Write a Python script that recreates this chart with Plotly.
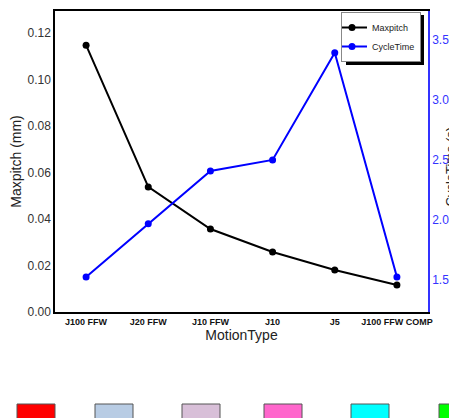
import plotly.graph_objects as go

categories = ["J100 FFW", "J20 FFW", "J10 FFW", "J10", "J5", "J100 FFW COMP"]
maxpitch = [0.1148, 0.0538, 0.0357, 0.0258, 0.0181, 0.0116]
cycle_time = [1.525, 1.967, 2.408, 2.50, 3.392, 1.525]
swatch_colors = ["#FF0000", "#B8CCE4", "#D8BFD8", "#FF66CC", "#00FFFF", "#00FF00"]

OFF = 8  # page body margin
W, H = 457 - OFF, 418 - OFF
L, R, T, B = 55 - OFF, 29, 11 - OFF, 106
pw, ph = W - L - R, H - T - B

def px(x):
    return (x - OFF - L) / pw

def py(y):
    return (H - B - (y - OFF)) / ph

fig = go.Figure()
fig.add_trace(go.Scatter(x=categories, y=maxpitch, name="Maxpitch", mode="lines+markers",
                         line=dict(color="black", width=2), marker=dict(color="black", size=7)))
fig.add_trace(go.Scatter(x=categories, y=cycle_time, name="CycleTime", mode="lines+markers",
                         yaxis="y2",
                         line=dict(color="#0000FF", width=2), marker=dict(color="#0000FF", size=7)))

shapes = []
# legend shadow
shapes.append(dict(type="rect", xref="paper", yref="paper", x0=px(346), x1=px(424), y0=py(65), y1=py(15),
                   fillcolor="black", line=dict(width=0), layer="above"))
# colour swatches below the chart
sw_x = [17, 95, 182, 264, 351, 439]
for c, x0 in zip(swatch_colors, sw_x):
    shapes.append(dict(type="rect", xref="paper", yref="paper", x0=px(x0), x1=px(x0 + 38),
                       y0=py(425), y1=py(404), fillcolor=c, line=dict(color="#555555", width=1)))

fig.update_layout(
    width=W, height=H,
    margin=dict(l=L, r=R, t=T, b=B, autoexpand=False),
    paper_bgcolor="white", plot_bgcolor="white",
    font=dict(family="Liberation Sans, Arial", color="#222222"),
    showlegend=True,
    legend=dict(x=px(421), y=py(12), xanchor="right", yanchor="top",
                bgcolor="white", bordercolor="#888888", borderwidth=1,
                font=dict(size=9, color="#222222"), tracegroupgap=0,
                itemwidth=30, indentation=-10),
    xaxis=dict(type="category", range=[-0.5, 5.5], showline=True, linecolor="black", linewidth=1.5,
               mirror=True, showgrid=False, zeroline=False, ticks="", automargin=False,
               tickfont=dict(size=9, color="#111111", family="Liberation Sans, Arial", weight="bold"),
               title=dict(text="MotionType", font=dict(size=14, color="#222222"), standoff=4)),
    yaxis=dict(range=[0, 0.1295], dtick=0.02, tickformat=".2f", showline=True, linecolor="black",
               linewidth=1.5, showgrid=False, zeroline=False, ticks="", automargin=False,
               tickfont=dict(size=12, color="#333333"),
               title=dict(text="Maxpitch (mm)", font=dict(size=14, color="#222222"), standoff=6)),
    yaxis2=dict(range=[1.233, 3.74], dtick=0.5, tickformat=".1f", overlaying="y", side="right",
                showline=True, linecolor="#3333FF", linewidth=1.5, showgrid=False, zeroline=False,
                ticks="", automargin=False, tickfont=dict(size=12, color="#3333FF")),
    shapes=shapes,
    annotations=[dict(text="CycleTime (s)", xref="paper", yref="paper", x=1, y=py(167),
                      xanchor="right", yanchor="middle", xshift=R + 2, textangle=-90, showarrow=False,
                      font=dict(size=13, color="#222222"))],
)

fig.write_html("out.html")
